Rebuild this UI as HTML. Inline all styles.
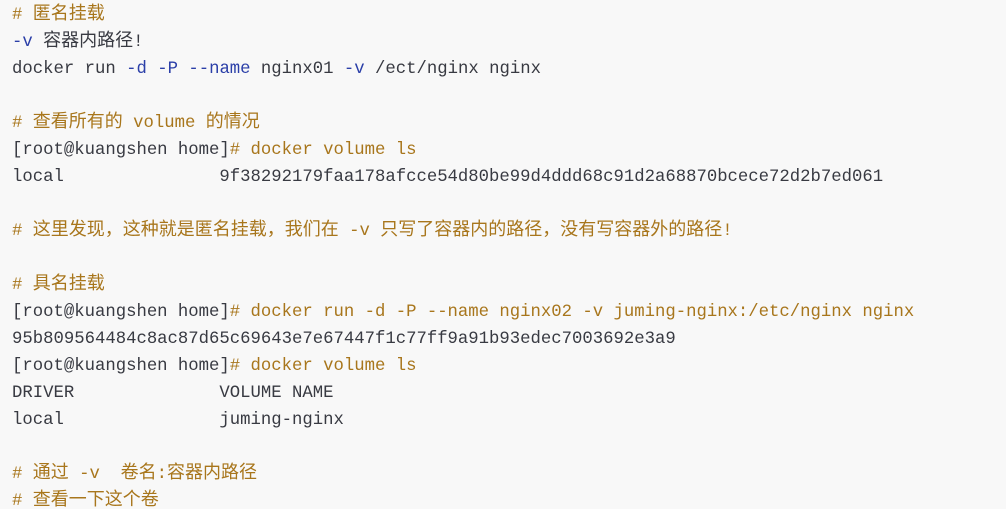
<!DOCTYPE html>
<html><head><meta charset="utf-8"><style>
html,body{margin:0;padding:0;background:#f8f8f8;width:1006px;height:509px;overflow:hidden}
.p{padding:2px 0 0 12px;font-family:"Liberation Mono","Noto Sans CJK SC",monospace;font-size:17.3px;color:#383a42}
.p div{height:27px;line-height:27px;white-space:pre;overflow:visible}
.c{color:#a8761c}.b{color:#2b3fa8}
.k{font-size:18px;font-family:"Noto Sans CJK SC",sans-serif;line-height:0}
</style></head><body><div class="p">
<div><span class="c"># <span class="k">匿名挂载</span></span></div>
<div><span class="b">-v</span> <span class="k">容器内路径</span>!</div>
<div>docker run <span class="b">-d</span> <span class="b">-P</span> <span class="b">--name</span> nginx01 <span class="b">-v</span> /ect/nginx nginx</div>
<div></div>
<div><span class="c"># <span class="k">查看所有的</span> volume <span class="k">的情况</span></span></div>
<div>[root@kuangshen home]<span class="c"># docker volume ls</span></div>
<div>local               9f38292179faa178afcce54d80be99d4ddd68c91d2a68870bcece72d2b7ed061</div>
<div></div>
<div><span class="c"># <span class="k">这里发现，这种就是匿名挂载，我们在</span> -v <span class="k">只写了容器内的路径，没有写容器外的路径</span>!</span></div>
<div></div>
<div><span class="c"># <span class="k">具名挂载</span></span></div>
<div>[root@kuangshen home]<span class="c"># docker run -d -P --name nginx02 -v juming-nginx:/etc/nginx nginx</span></div>
<div>95b809564484c8ac87d65c69643e7e67447f1c77ff9a91b93edec7003692e3a9</div>
<div>[root@kuangshen home]<span class="c"># docker volume ls</span></div>
<div>DRIVER              VOLUME NAME</div>
<div>local               juming-nginx</div>
<div></div>
<div><span class="c"># <span class="k">通过</span> -v  <span class="k">卷名</span>:<span class="k">容器内路径</span></span></div>
<div><span class="c"># <span class="k">查看一下这个卷</span></span></div>
</div></body></html>
